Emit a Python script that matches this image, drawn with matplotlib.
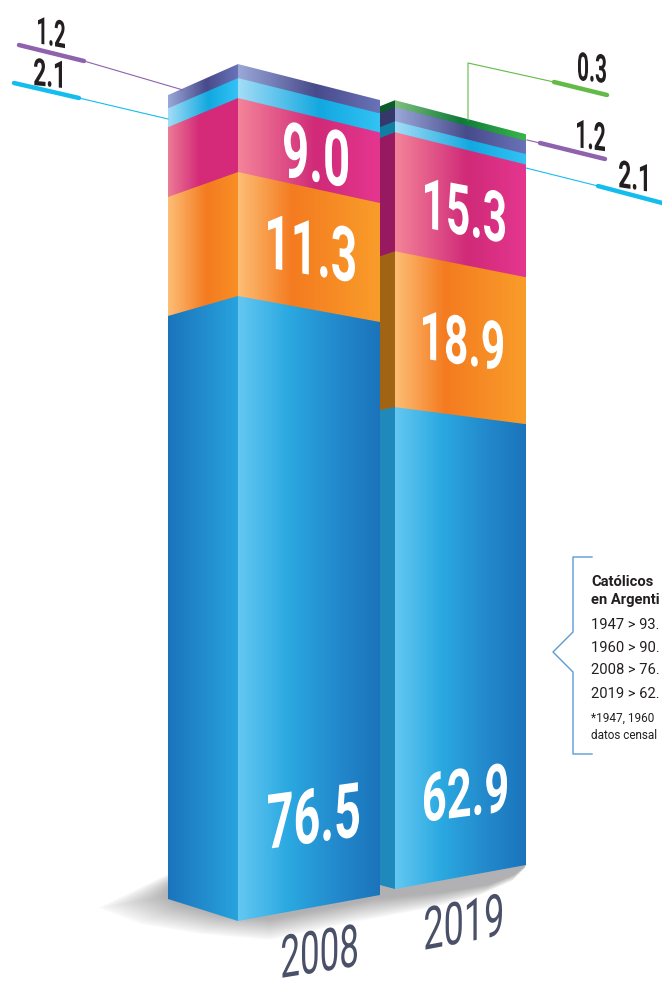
#!/usr/bin/env python3
"""
Barras apiladas en perspectiva: creencias en Argentina, 2008 y 2019
"""

import numpy as np
import matplotlib
matplotlib.use('Agg')
import matplotlib.pyplot as plt
import matplotlib.patheffects as pe
from matplotlib.colors import LinearSegmentedColormap
from matplotlib.font_manager import FontProperties
from matplotlib.patches import Polygon
from matplotlib.textpath import TextPath
from matplotlib.transforms import Affine2D

# Datos
years = ['2008', '2019']
series = ['blue', 'orange', 'pink', 'cyan', 'purple', 'green']
values_2008 = [76.5, 11.3, 9.0, 2.1, 1.2]
values_2019 = [62.9, 18.9, 15.3, 2.1, 1.2, 0.3]
box_title = ['Católicos', 'en Argenti']
box_lines = ['1947 > 93.', '1960 > 90.', '2008 > 76.', '2019 > 62.']
box_note = ['*1947, 1960', 'datos censal']

# La infografia no es del todo proporcional: pixeles por unidad en cada tramo
px_per_unit_2008 = [8.17, 10.97, 8.22, 9.52, 10.83]
px_per_unit_2019 = [7.66, 8.25, 7.78, 5.24, 11.67, 20.0]

GRADIENTS = {
    'blue': [(0, '#63C8F2'), (0.35, '#2BA9E1'), (0.7, '#2389CC'), (1, '#1B74BB')],
    'orange': [(0, '#FDBE76'), (0.38, '#F47B20'), (1, '#F99D2A')],
    'pink': [(0, '#F48499'), (0.55, '#D02A78'), (1, '#E5368F')],
    'cyan': [(0, '#A3DDF7'), (0.58, '#12A8E0'), (1, '#33C3F4')],
    'purple': [(0, '#9AA8D8'), (0.55, '#484A8B'), (1, '#6A73B8')],
    'green': [(0, '#80C080'), (0.5, '#0F7A3A'), (1, '#39B54A')],
}
LEFT_2008 = {
    'blue': [(0, '#1B74BB'), (1, '#28A3DE')],
    'orange': [(0, '#FDBE76'), (0.55, '#F47B20'), (1, '#F88F26')],
    'pink': [(0, '#EC7C95'), (0.45, '#D42A78'), (1, '#D62A7B')],
    'cyan': GRADIENTS['cyan'],
    'purple': GRADIENTS['purple'],
}
LEFT_2019 = {'blue': '#2089BB', 'orange': '#A06414', 'pink': '#97195F',
             'cyan': '#117FA3', 'purple': '#36386B', 'green': '#0C5C2C'}
TICK_COLORS = {'purple': '#8E62AC', 'cyan': '#14BDEE', 'green': '#62BB46'}

fig = plt.figure(figsize=(6.62, 9.81), dpi=100)
ax = fig.add_axes([0, 0, 1, 1])
ax.axis('off')


def cmap_of(stops):
    return LinearSegmentedColormap.from_list('g', stops)


def fill_quad(x0, x1, top0, top1, bot0, bot1, fill, z):
    """Cuadrilatero con gradiente horizontal (o color liso)."""
    pts = [(x0, top0), (x1, top1), (x1, bot1), (x0, bot0)]
    if isinstance(fill, str):
        ax.add_patch(Polygon(pts, facecolor=fill, edgecolor='none', zorder=z))
        return
    grad = np.linspace(0, 1, 256).reshape(1, -1)
    im = ax.imshow(grad, extent=(x0, x1, max(bot0, bot1), min(top0, top1)),
                   aspect='auto', cmap=cmap_of(fill), zorder=z,
                   interpolation='bilinear')
    im.set_clip_path(Polygon(pts, transform=ax.transData))


def draw_bar(values, scale, base, xs, knots, left_d, right_d, left_fill, z):
    heights = np.array(values) * np.array(scale)
    edges = base - np.concatenate([[0], np.cumsum(heights)])
    left = edges + np.interp(edges, knots, left_d)
    right = edges + np.interp(edges, knots, right_d)
    for i, name in enumerate(series[:len(values)]):
        fill_quad(xs[0], xs[1], left[i + 1] - 1, edges[i + 1] - 1, left[i], edges[i],
                  left_fill[name], z + i * 0.01)
        fill_quad(xs[1], xs[2], edges[i + 1] - 1, right[i + 1] - 1, edges[i], right[i],
                  GRADIENTS[name], z + i * 0.01)


# Sombra en el piso: contornos apilados, de afuera hacia adentro
shadow_outer = np.array([(98, 908), (168, 874), (526, 862), (525, 868), (512, 881),
                         (480, 895), (430, 908), (350, 923), (270, 940), (200, 934), (140, 924)])
shadow_inner = np.array([(172, 896), (172, 884), (526, 862), (525, 866), (515, 874),
                         (490, 884), (440, 892), (380, 897), (270, 918), (225, 914), (185, 904)])
for k in np.linspace(0, 1, 40):
    ax.add_patch(Polygon(shadow_outer + (shadow_inner - shadow_outer) * k,
                         facecolor='#77777B', edgecolor='none', alpha=0.014, zorder=1))

draw_bar(values_2019, px_per_unit_2019, 889, (380, 395, 526),
         [101, 251, 407, 889], [6, 5, 3, -4], [34, 26, 17, -24], LEFT_2019, 2)
draw_bar(values_2008, px_per_unit_2008, 921, (168, 238, 380),
         [65, 172, 296, 921], [31, 25, 20, -22], [36, 31, 26, -26], LEFT_2008, 3)


class Shear(pe.AbstractPathEffect):
    """Angosta y cizalla el texto para seguir la cara de la barra."""

    def __init__(self, sx, slope, origin):
        super().__init__()
        self.sx, self.slope, self.origin = sx, slope, origin

    def draw_path(self, renderer, gc, tpath, affine, rgbFace=None):
        shear = Affine2D.from_values(self.sx, -self.slope * self.sx, 0, 1, 0, 0)
        # el origen del trazo va a (x0, base), no al ancla del texto
        m = affine.get_matrix().copy()
        m[:2, 2] = ax.transData.transform(self.origin)
        renderer.draw_path(gc, tpath, shear + Affine2D(m), rgbFace)


def slanted(s, x0, x1, base, height, slope, color, weight):
    """Texto de x0 a x1, base en y=base, altura en px, pendiente hacia abajo."""
    size = height / 0.711 * 0.72
    prop = FontProperties(family='Roboto', weight=weight, size=size)
    natural = TextPath((0, 0), s, size=size / 0.72, prop=prop).get_extents()
    sx = (x1 - x0) / natural.width
    mid_y = base - height / 2 + slope * (x1 - x0) / 2
    ax.text((x0 + x1) / 2, mid_y, s, color=color, fontproperties=prop,
            ha='center', va='center', zorder=6,
            path_effects=[Shear(sx, slope, (x0 - natural.x0 * sx, base))])


WHITE = 'white'
INK = '#231F20'
YEAR_INK = '#4A5068'

# Valores sobre las barras
slanted(f'{values_2008[2]:.1f}', 284, 348, 176, 55, 0.17, WHITE, 'bold')
slanted(f'{values_2008[1]:.1f}', 268, 355, 267, 54, 0.17, WHITE, 'bold')
slanted(f'{values_2008[0]:.1f}', 268, 359, 849, 54, -0.14, WHITE, 'bold')
slanted(f'{values_2019[2]:.1f}', 425, 505, 227, 50, 0.19, WHITE, 'bold')
slanted(f'{values_2019[1]:.1f}', 423, 503, 358, 48, 0.15, WHITE, 'bold')
slanted(f'{values_2019[0]:.1f}', 424, 507, 822, 48, -0.13, WHITE, 'bold')

# Valores chicos con su guia
slanted(f'{values_2008[4]:.1f}', 38, 65, 43, 27, 0.18, INK, 'bold')
slanted(f'{values_2008[3]:.1f}', 34, 62, 85, 27, 0.10, INK, 'bold')
slanted(f'{values_2019[5]:.1f}', 578, 606, 80, 28, 0.10, INK, 'bold')
slanted(f'{values_2019[4]:.1f}', 577, 605, 147, 28, 0.14, INK, 'bold')
slanted(f'{values_2019[3]:.1f}', 619, 647, 187, 27, 0.15, INK, 'bold')

guides = [
    ('purple', [(183, 90), (84, 61)], [(84, 61), (19, 45)]),
    ('cyan', [(168, 119), (79, 98)], [(79, 98), (14, 83)]),
    ('green', [(468, 120), (468, 63), (554, 82)], [(554, 82), (607, 95)]),
    ('purple', [(527, 140), (540, 143)], [(540, 143), (605, 159)]),
    ('cyan', [(526, 168), (598, 186)], [(598, 186), (666, 204)]),
]
for name, thin, thick in guides:
    ax.plot(*zip(*thin), color=TICK_COLORS[name], lw=0.8, zorder=5)
    ax.plot(*zip(*thick), color=TICK_COLORS[name], lw=3.2,
            solid_capstyle='round', zorder=5)

# Anios
slanted(years[0], 282, 357, 978, 42, -0.16, YEAR_INK, 'normal')
slanted(years[1], 425, 502, 950, 42, -0.19, YEAR_INK, 'normal')

# Recuadro
ax.plot([592, 573, 573, 553, 573, 573, 592],
        [557, 557, 632, 652, 672, 754, 754], color='#5B9BD5', lw=1.0, zorder=5)
for s, y in zip(box_title, [586, 604]):
    ax.text(591, y, s, fontsize=10.6, fontweight='bold', family='Roboto',
            color=INK, ha='left', va='baseline')
for s, y in zip(box_lines, [629, 652, 674, 698]):
    ax.text(591, y, s, fontsize=10.6, family='Roboto', color=INK,
            ha='left', va='baseline')
for s, y in zip(box_note, [722, 739]):
    ax.text(591, y, s, fontsize=8.5, family='Roboto', color=INK,
            ha='left', va='baseline')

ax.set_xlim(0, 662)
ax.set_ylim(981, 0)

fig.savefig('out.png', dpi=100, facecolor='white')
